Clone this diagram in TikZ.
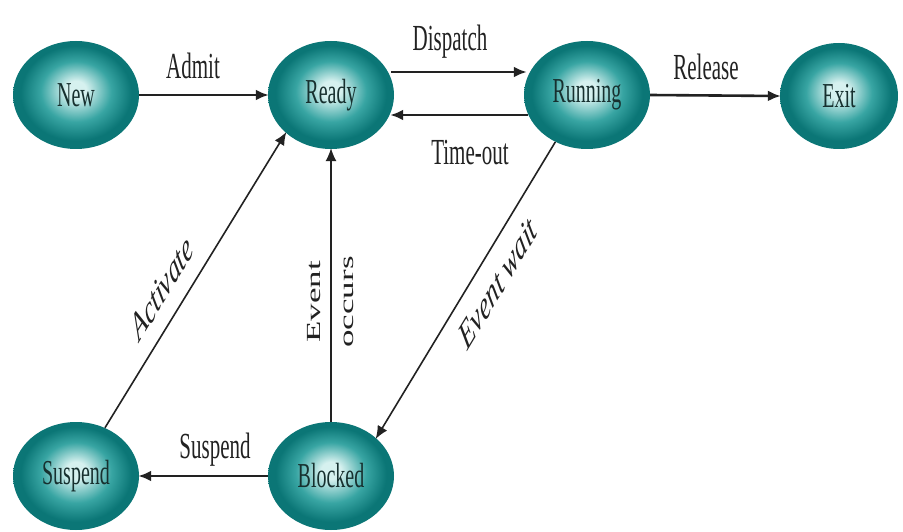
\documentclass[tikz,border=0pt]{standalone}
\usepackage{graphicx}
\usepackage{fontspec}
\setmainfont{Liberation Serif}
\usetikzlibrary{shapes.geometric,arrows.meta,calc}
\definecolor{tlight}{HTML}{D6F1EF}
\definecolor{tmid}{HTML}{38A5A3}
\definecolor{tdark}{HTML}{0B7676}
\definecolor{statetext}{HTML}{17302F}
\definecolor{edgeink}{HTML}{222222}
\pgfdeclareradialshading{tealball}{\pgfpoint{0bp}{3bp}}{%
  color(0bp)=(tlight); color(4bp)=(tlight); color(14bp)=(tmid);
  color(22bp)=(tdark); color(30bp)=(tdark)}
% tall, narrow lettering used throughout
\newcommand{\tallname}[1]{\scalebox{1}[1.75]{#1}}
\tikzset{
  state/.style={ellipse, shading=tealball, inner sep=0pt,
    minimum width=126pt, minimum height=108pt,
    font=\fontsize{20}{22}\selectfont, text=statetext},
  trans/.style={draw=edgeink, line width=2.6pt,
    -{Latex[length=13pt,width=11pt]}, shorten >=-1pt},
  thin trans/.style={trans, line width=1.6pt},
  lbl/.style={font=\fontsize{21}{24}\selectfont, text=edgeink, inner sep=1pt,
    yscale=1.75},
  ilbl/.style={font=\fontsize{23}{26}\selectfont\itshape, text=edgeink,
    inner sep=1pt, yscale=1.75}
}
\begin{document}
\begin{tikzpicture}[x=1pt,y=-1pt]
  \useasboundingbox[fill=white] (0,0) rectangle (903,532);

  % process states
  \node[state] (new)     at (76,95)   {\tallname{New}};
  \node[state] (ready)   at (331,95)  {\tallname{Ready}};
  \node[state] (running) at (587,95)  {\tallname{Running}};
  \node[state, minimum width=118pt, minimum height=106pt] (exit) at (839,96) {\tallname{Exit}};
  \node[state] (suspend) at (76,476)  {\tallname{Suspend}};
  \node[state] (blocked) at (331,476) {\tallname{Blocked}};

  % transitions
  \draw[trans] (new.east) -- (ready.west);
  \draw[trans] ($(ready.east)+(-3,-23)$) -- ($(running.west)+(2,-23)$);
  \draw[trans] ($(running.west)+(4,20)$) -- ($(ready.east)+(-3,20)$);
  \draw[trans] (running.east) -- (exit.west);
  \draw[trans] (blocked.west) -- (suspend.east);
  \draw[thin trans, line width=1.2pt] (blocked.north) -- (ready.south);
  \draw[thin trans] (suspend.59) -- (ready.220);
  \draw[thin trans] (running.236) -- (blocked.40);

  % transition labels
  \node[lbl] (admit)    at (193,66)  {Admit};
  \node[lbl] (dispatch) at (450,42)  {Dispatch};
  \node[lbl] (timeout)  at (470,153) {Time-out};
  \node[lbl] (release)  at (706,67)  {Release};
  \node[lbl] (susp)     at (215,450) {Suspend};
  \node[font=\fontsize{20}{33}\selectfont, text=edgeink, inner sep=1pt,
    align=center, rotate=90, xscale=1.75]
    (occurs) at (331,302) {Event\\occurs};
  \node[ilbl, rotate=43.6] (activate) at (162,288) {Activate};
  \node[ilbl, rotate=43.6] (wait) at (498,283) {Event wait};
\end{tikzpicture}
\end{document}
